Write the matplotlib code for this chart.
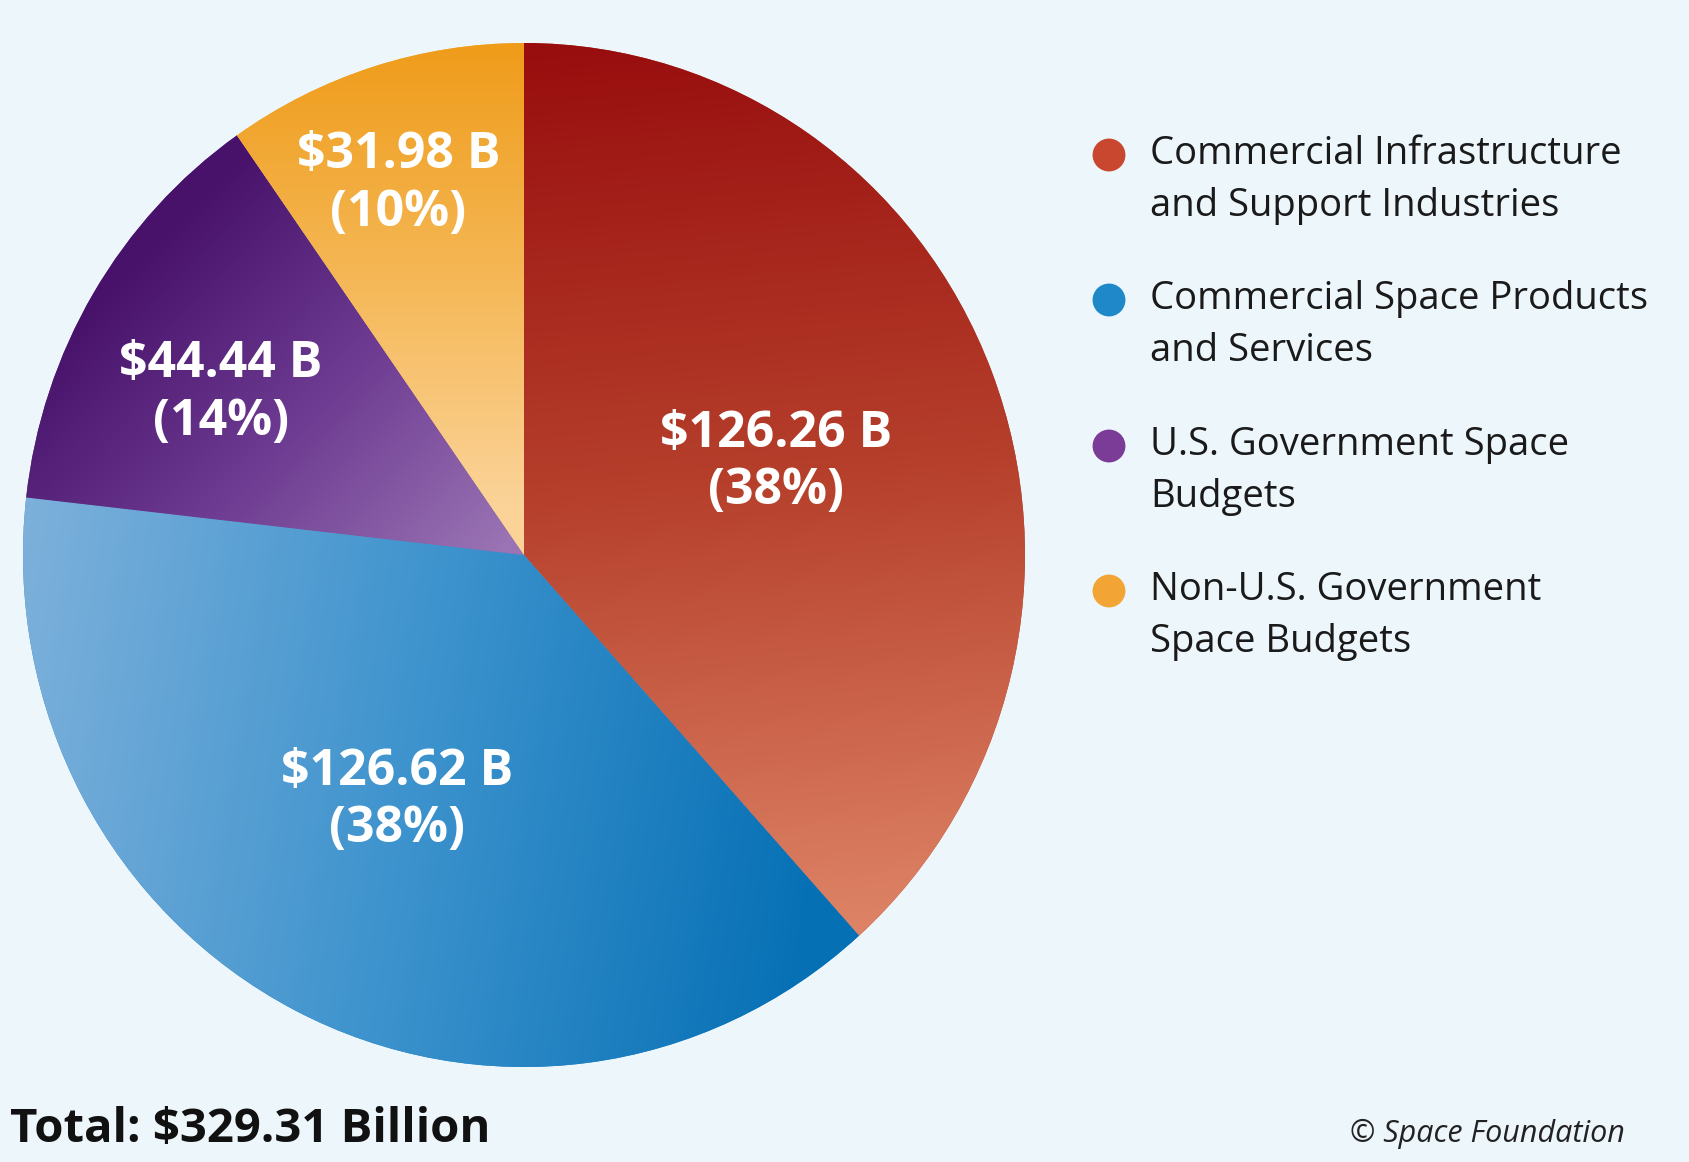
import numpy as np
import matplotlib.pyplot as plt
from matplotlib.colors import LinearSegmentedColormap

# data
categories = ['Commercial Infrastructure\nand Support Industries',
              'Commercial Space Products\nand Services',
              'U.S. Government Space\nBudgets',
              'Non-U.S. Government\nSpace Budgets']
values = [126.26, 126.62, 44.44, 31.98]
pct_labels = ['38%', '38%', '14%', '10%']
total_label = 'Total: $329.31 Billion'

bg = '#ecf6fb'
base_colors = ['#b8432e', '#2a86c6', '#6a3490', '#f4b347']
marker_colors = ['#c9472e', '#1f88c8', '#7a3c96', '#f2a535']

# gradient stops per slice
grad_stops = [['#980d0e', '#b6402c', '#de8466'],
              ['#7cb0db', '#3d93cd', '#0670b5'],
              ['#48126b', '#6e3c92', '#9a74b4'],
              ['#ef9c1a', '#f5b755', '#fbd398']]
# label placement: distance from centre and angle shift from slice middle
label_r = [0.534, 0.542, 0.683, 0.767]
label_shift = [-1.2, -0.6, 3.2, 1.6]

W, H = 1689, 1162
fig = plt.figure(figsize=(W / 100, H / 100), dpi=100, facecolor=bg)

# pie axes, placed so that radius 1 fills it
cx, cy, rx, ry = 524, 555, 501, 512
ax = fig.add_axes([(cx - rx) / W, (H - cy - ry) / H, 2 * rx / W, 2 * ry / H])
wedges, _ = ax.pie(values, startangle=90, counterclock=False, colors=base_colors,
                   radius=1.0, wedgeprops=dict(linewidth=0))

# gradient fields
gx, gy = np.meshgrid(np.linspace(-1, 1, 500), np.linspace(1, -1, 500))
fields = [
    (1 - gy) / 1.8 + 0.05 * gx,
    (gx + 1.0) / 1.7 - 0.1 * gy,
    ((gx - gy) + 1.35) / 1.3,
    (1 - gy) / 0.9,
]
for w, stops, t in zip(wedges, grad_stops, fields):
    cmap = LinearSegmentedColormap.from_list('g', stops)
    im = ax.imshow(np.clip(t, 0, 1), cmap=cmap, vmin=0, vmax=1,
                   extent=(-1, 1, -1, 1), aspect='auto', interpolation='bilinear',
                   zorder=w.get_zorder() + 0.5)
    im.set_clip_path(w)

ax.set_xlim(-1, 1)
ax.set_ylim(-1, 1)
ax.set_aspect('auto')
ax.axis('off')

# slice labels
for w, v, p, r, s in zip(wedges, values, pct_labels, label_r, label_shift):
    mid = np.deg2rad((w.theta1 + w.theta2) / 2 + s)
    ax.text(r * np.cos(mid), r * np.sin(mid), '${:.2f} B\n({})'.format(v, p),
            ha='center', va='center', color='white', fontsize=36,
            fontweight='bold', family=['Open Sans', 'DejaVu Sans'],
            linespacing=1.2, zorder=10)

# overlay in pixel coordinates for legend and notes
ov = fig.add_axes([0, 0, 1, 1])
ov.set_xlim(0, W)
ov.set_ylim(H, 0)
ov.axis('off')
ov.patch.set_visible(False)

leg_y = [151, 296, 442, 587]
for y, lab, c in zip(leg_y, categories, marker_colors):
    ov.scatter([1109], [y + 4], s=560, color=c, edgecolors='none')
    ov.text(1150, y - 16, lab, ha='left', va='top', fontsize=27.5,
            color='#1a1a1a', family=['Open Sans', 'DejaVu Sans'], linespacing=1.47)

ov.text(10, 1142, total_label, ha='left', va='baseline', fontsize=34,
        fontweight='bold', color='#111111', family=['Open Sans', 'DejaVu Sans'])
ov.text(1350, 1134, '\u00a9 Space Foundation', ha='left', va='center', fontsize=22,
        style='italic', color='#222222', family=['Open Sans', 'DejaVu Sans'])

fig.savefig('out.png', dpi=100, facecolor=bg)
